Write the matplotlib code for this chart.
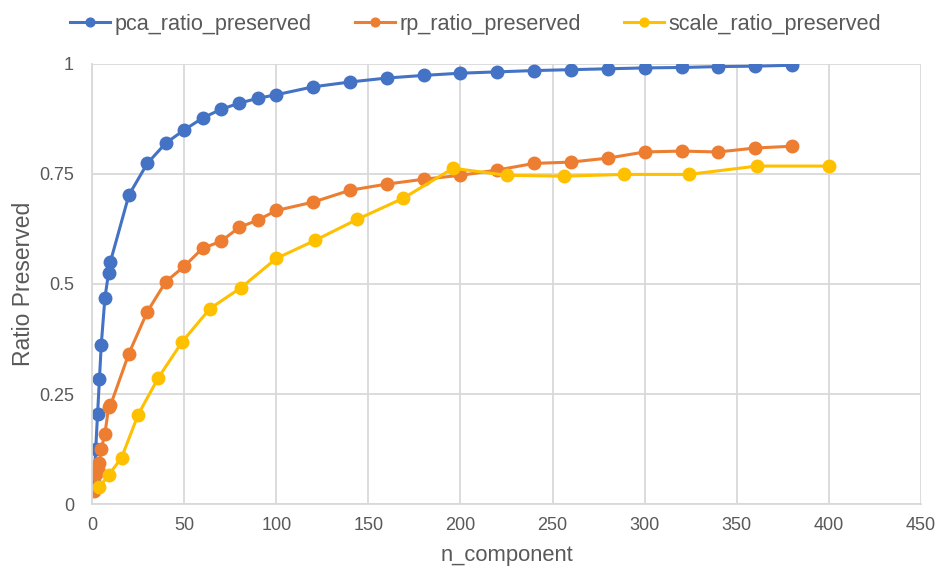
import matplotlib.pyplot as plt

# PCA components and preserved ratio
pca_x = [1, 2, 3, 4, 5, 7, 9, 10, 20, 30, 40, 50, 60, 70, 80, 90, 100,
         120, 140, 160, 180, 200, 220, 240, 260, 280, 300, 320, 340, 360, 380]
pca_ratio_preserved = [0.05, 0.125, 0.205, 0.283, 0.362, 0.469, 0.526, 0.551, 0.702, 0.774,
                       0.820, 0.850, 0.877, 0.897, 0.911, 0.922, 0.930, 0.948, 0.959, 0.968,
                       0.974, 0.979, 0.982, 0.985, 0.987, 0.989, 0.991, 0.992, 0.994, 0.995, 0.997]

# random projection
rp_x = [1, 2, 3, 4, 5, 7, 9, 10, 20, 30, 40, 50, 60, 70, 80, 90, 100,
        120, 140, 160, 180, 200, 220, 240, 260, 280, 300, 320, 340, 360, 380]
rp_ratio_preserved = [0.030, 0.068, 0.080, 0.093, 0.125, 0.160, 0.220, 0.224, 0.342, 0.437,
                      0.505, 0.540, 0.581, 0.597, 0.629, 0.645, 0.667, 0.686, 0.713, 0.727,
                      0.738, 0.747, 0.759, 0.774, 0.777, 0.786, 0.800, 0.802, 0.800, 0.809, 0.813]

# image rescaling (side length squared)
scale_x = [4, 9, 16, 25, 36, 49, 64, 81, 100, 121, 144, 169, 196, 225, 256, 289, 324, 361, 400]
scale_ratio_preserved = [0.039, 0.066, 0.105, 0.203, 0.287, 0.369, 0.444, 0.492, 0.558, 0.599,
                         0.647, 0.695, 0.763, 0.747, 0.745, 0.749, 0.749, 0.768, 0.768]

plt.rcParams['font.family'] = ['Liberation Sans', 'DejaVu Sans']
txt = '#595959'
grid = '#d9d9d9'

fig = plt.figure(figsize=(9.46, 5.71), dpi=100)
ax = fig.add_axes([0.0973, 0.1173, 0.8763, 0.7707])

style = dict(marker='o', markersize=9, linewidth=2.2)
ax.plot(pca_x, pca_ratio_preserved, color='#4472C4', label='pca_ratio_preserved', **style)
ax.plot(rp_x, rp_ratio_preserved, color='#ED7D31', label='rp_ratio_preserved', **style)
ax.plot(scale_x, scale_ratio_preserved, color='#FFC000', label='scale_ratio_preserved', **style)

ax.set_xlim(0, 450)
ax.set_ylim(0, 1)
ax.set_xticks(range(0, 451, 50))
ax.set_yticks([0, 0.25, 0.5, 0.75, 1])
ax.set_yticklabels(['0', '0.25', '0.5', '0.75', '1'])
ax.grid(True, color=grid, linewidth=1.3)
ax.set_axisbelow(True)
for s in ax.spines.values():
    s.set_visible(False)
for side in ('left', 'bottom'):
    ax.spines[side].set_visible(True)
    ax.spines[side].set_color(grid)
    ax.spines[side].set_linewidth(1.3)
ax.tick_params(length=0, labelsize=13, colors=txt)
ax.tick_params(axis='x', pad=9)
ax.tick_params(axis='y', pad=13)

ax.set_xlabel('n_component', fontsize=15.8, color=txt, labelpad=8)
ax.set_ylabel('Ratio Preserved', fontsize=16.5, color=txt, labelpad=3)

fig.legend(loc='upper center', bbox_to_anchor=(0.503, 1.01), ncol=3, frameon=False,
           fontsize=15.6, labelcolor=txt, handlelength=1.85, columnspacing=2.0,
           handletextpad=0.2, markerscale=0.7)

fig.savefig('out.png', dpi=100)
